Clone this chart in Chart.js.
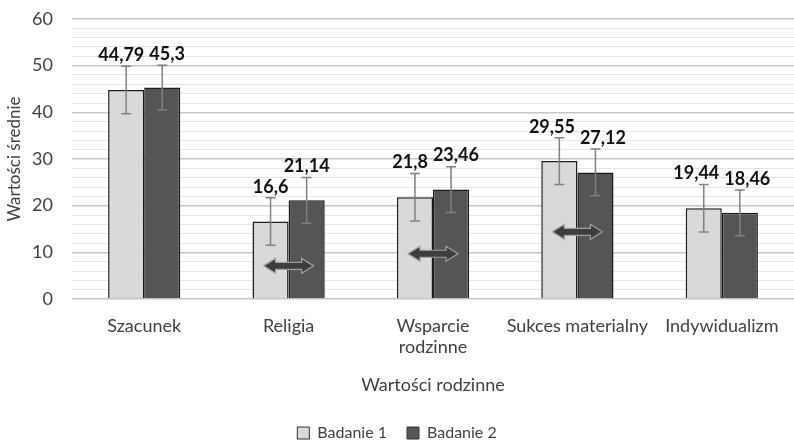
<!DOCTYPE html>
<html>
<head>
<meta charset="utf-8">
<script src="https://cdn.jsdelivr.net/npm/chart.js"></script>
<style>
  html, body { margin: 0; padding: 0; background: #fff; }
  #wrap { width: 794px; height: 442px; }
</style>
</head>
<body>
<div id="wrap"><canvas id="chart"></canvas></div>
<script>
// data
var categories = ['Szacunek', 'Religia', ['Wsparcie', 'rodzinne'], 'Sukces materialny', 'Indywidualizm'];
var badanie1 = [44.79, 16.6, 21.8, 29.55, 19.44];
var badanie2 = [45.3, 21.14, 23.46, 27.12, 18.46];
var err1 = [5.1, 5.1, 5.1, 5.0, 5.1];
var err2 = [4.8, 4.9, 4.9, 5.0, 4.9];
// double arrows (value on y axis where the arrow sits, null = none)
var arrowAt = [null, 7.1, 9.7, 14.4, null];

var FONT = 'Lato';

function fmt(v) {
    return String(v).replace('.', ',');
}

var extras = {
    id: 'extras',
    afterLayout: function(chart) {
        // push legend row down to the bottom edge
        var lg = chart.legend;
        var shift = 433 - (lg.top + 20 + 8);
        lg.top += shift;
        lg.bottom += shift;
    },
    afterDatasetsDraw: function(chart) {
        var ctx = chart.ctx;
        var y = chart.scales.y;
        var x = chart.scales.x;
        var errs = [err1, err2];

        for (var i = 0; i < arrowAt.length; i++) {
            if (arrowAt[i] == null) continue;
            var cx = x.getPixelForValue(i);
            var cy = y.getPixelForValue(arrowAt[i]);
            var hw = 25, head = 12, hh = 7.5, sh = 3.5;
            ctx.save();
            ctx.beginPath();
            ctx.moveTo(cx - hw, cy);
            ctx.lineTo(cx - hw + head, cy - hh);
            ctx.lineTo(cx - hw + head, cy - sh);
            ctx.lineTo(cx + hw - head, cy - sh);
            ctx.lineTo(cx + hw - head, cy - hh);
            ctx.lineTo(cx + hw, cy);
            ctx.lineTo(cx + hw - head, cy + hh);
            ctx.lineTo(cx + hw - head, cy + sh);
            ctx.lineTo(cx - hw + head, cy + sh);
            ctx.lineTo(cx - hw + head, cy + hh);
            ctx.closePath();
            ctx.fillStyle = '#3d3d3d';
            ctx.fill();
            ctx.lineWidth = 1.2;
            ctx.strokeStyle = '#a0a0a0';
            ctx.stroke();
            ctx.restore();
        }

        // error bars
        var labels = [[], []];
        chart.data.datasets.forEach(function(ds, d) {
            var meta = chart.getDatasetMeta(d);
            meta.data.forEach(function(bar, i) {
                var v = ds.data[i];
                var e = errs[d][i];
                var top = y.getPixelForValue(v + e);
                var bot = y.getPixelForValue(v - e);
                ctx.save();
                ctx.strokeStyle = '#808080';
                ctx.lineWidth = 1.5;
                ctx.beginPath();
                ctx.moveTo(bar.x, top);
                ctx.lineTo(bar.x, bot);
                ctx.moveTo(bar.x - 5, top);
                ctx.lineTo(bar.x + 5, top);
                ctx.moveTo(bar.x - 5, bot);
                ctx.lineTo(bar.x + 5, bot);
                ctx.stroke();
                ctx.restore();
                labels[d][i] = { text: fmt(v), x: bar.x, y: top - 2 };
            });
        });

        // value labels, pushed apart when the two in a group collide
        ctx.save();
        ctx.fillStyle = '#111';
        ctx.font = 'bold 18px ' + FONT;
        ctx.textAlign = 'center';
        ctx.textBaseline = 'bottom';
        for (var k = 0; k < categories.length; k++) {
            var a = labels[0][k], b = labels[1][k];
            var wa = ctx.measureText(a.text).width, wb = ctx.measureText(b.text).width;
            var overlap = (a.x + wa / 2 + 5) - (b.x - wb / 2);
            if (overlap > 0 && Math.abs(a.y - b.y) < 18) {
                a.x -= overlap / 2;
                b.x += overlap / 2;
            }
            ctx.fillText(a.text, a.x, a.y);
            ctx.fillText(b.text, b.x, b.y);
        }
        ctx.restore();
    }
};

new Chart(document.getElementById('chart'), {
    type: 'bar',
    data: {
        labels: categories,
        datasets: [{
            label: 'Badanie 1',
            data: badanie1,
            backgroundColor: '#d9d9d9',
            borderColor: '#1a1a1a',
            borderWidth: 1.5
        }, {
            label: 'Badanie 2',
            data: badanie2,
            backgroundColor: '#555555',
            borderColor: '#1a1a1a',
            borderWidth: 1.5
        }]
    },
    options: {
        responsive: true,
        maintainAspectRatio: false,
        animation: false,
        layout: { padding: { top: 19, left: 0, right: 0, bottom: 0 } },
        categoryPercentage: 0.5,
        barPercentage: 1.0,
        scales: {
            x: {
                grid: { display: false },
                border: { display: false },
                ticks: { color: '#404040', font: { family: FONT, size: 18 }, padding: 8, maxRotation: 0, autoSkip: false },
                title: { display: true, text: 'Wartości rodzinne', color: '#404040', font: { family: FONT, size: 18 }, padding: { top: 4, bottom: 0 } },
                afterFit: function(s) { s.height = 97; }
            },
            y: {
                min: 0,
                max: 60,
                border: { display: false },
                grid: {
                    drawTicks: false,
                    color: function(c) { return c.tick.value % 10 === 0 ? '#c6c6c6' : '#e6e6e6'; },
                    lineWidth: function(c) { return c.tick.value % 10 === 0 ? 1.6 : 1; }
                },
                ticks: {
                    stepSize: 2,
                    autoSkip: false,
                    padding: 19,
                    color: '#404040',
                    font: { family: FONT, size: 18 },
                    callback: function(v) { return v % 10 === 0 ? v : ''; }
                },
                title: { display: true, text: 'Wartości średnie', color: '#404040', font: { family: FONT, size: 17 }, padding: 4 },
                afterFit: function(s) { s.width = 72; s.paddingTop = 0; }
            }
        },
        plugins: {
            legend: {
                position: 'bottom',
                labels: {
                    color: '#404040',
                    font: { family: FONT, size: 16 },
                    boxWidth: 12,
                    boxHeight: 12,
                    padding: 20,
                    generateLabels: function(chart) {
                        return chart.data.datasets.map(function(ds, i) {
                            return {
                                text: ds.label,
                                fillStyle: ds.backgroundColor,
                                strokeStyle: '#333',
                                lineWidth: 1,
                                fontColor: '#404040',
                                datasetIndex: i
                            };
                        });
                    }
                }
            },
            tooltip: { enabled: false }
        }
    },
    plugins: [extras]
});
</script>
</body>
</html>
